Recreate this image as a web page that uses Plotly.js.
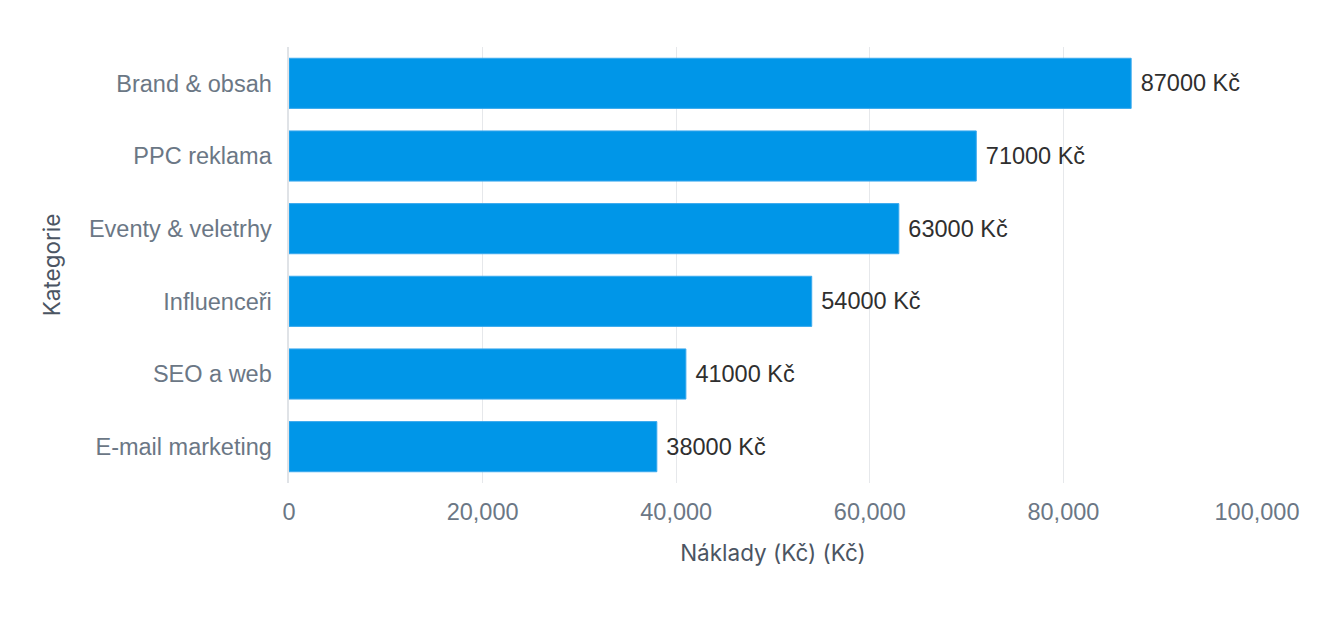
<html>
<head>
    <meta charset="utf-8">
    <script src="https://cdn.plot.ly/plotly-3.0.1.min.js"></script>
    <style>
        body { margin: 0; background: #fff; }
        #chart { width: 1342px; height: 640px; }
    </style>
</head>
<body>
    <div id="chart"></div>
    <script>
        // categories bottom to top, as plotly draws them
        var categories = ['E-mail marketing', 'SEO a web', 'Influenceři', 'Eventy & veletrhy', 'PPC reklama', 'Brand & obsah'];
        var costs = [38000, 41000, 54000, 63000, 71000, 87000];
        var labels = costs.map(function (v) { return ' ' + v + ' Kč'; });

        var sans = '"Liberation Sans", Arial, sans-serif';

        var bars = {
            type: 'bar',
            orientation: 'h',
            x: costs,
            y: categories,
            text: labels,
            textposition: 'outside',
            cliponaxis: false,
            textfont: { family: sans, size: 23.5, color: '#2f2f2f' },
            marker: { color: '#0096e8', line: { color: '#3aa9ee', width: 1 } },
            hoverinfo: 'x+y'
        };

        var layout = {
            width: 1342,
            height: 640,
            margin: { l: 289, r: 85, t: 47, b: 157 },
            paper_bgcolor: '#ffffff',
            plot_bgcolor: '#ffffff',
            bargap: 0.31,
            showlegend: false,
            font: { family: sans, color: '#6b7785' },
            xaxis: {
                range: [0, 100000],
                tickformat: ',d',
                dtick: 20000,
                gridcolor: '#e6e8eb',
                zeroline: false,
                showline: false,
                ticks: '',
                ticklabelstandoff: 12,
                tickfont: { size: 23.5, color: '#6b7785' },
                title: { text: 'Náklady (Kč) (Kč)', font: { family: 'Inter, sans-serif', size: 22.5, color: '#4b5563' }, standoff: 21 }
            },
            yaxis: {
                showgrid: false,
                showline: true,
                linecolor: '#e0e3e7',
                linewidth: 2,
                ticks: '',
                ticksuffix: ' ',
                ticklabelstandoff: 4,
                tickfont: { size: 23.5, color: '#6b7785' },
                title: { text: 'Kategorie', font: { family: 'Inter, sans-serif', size: 22.5, color: '#4b5563' }, standoff: 22 }
            }
        };

        Plotly.newPlot('chart', [bars], layout, { displayModeBar: false, staticPlot: true });
    </script>
</body>
</html>
